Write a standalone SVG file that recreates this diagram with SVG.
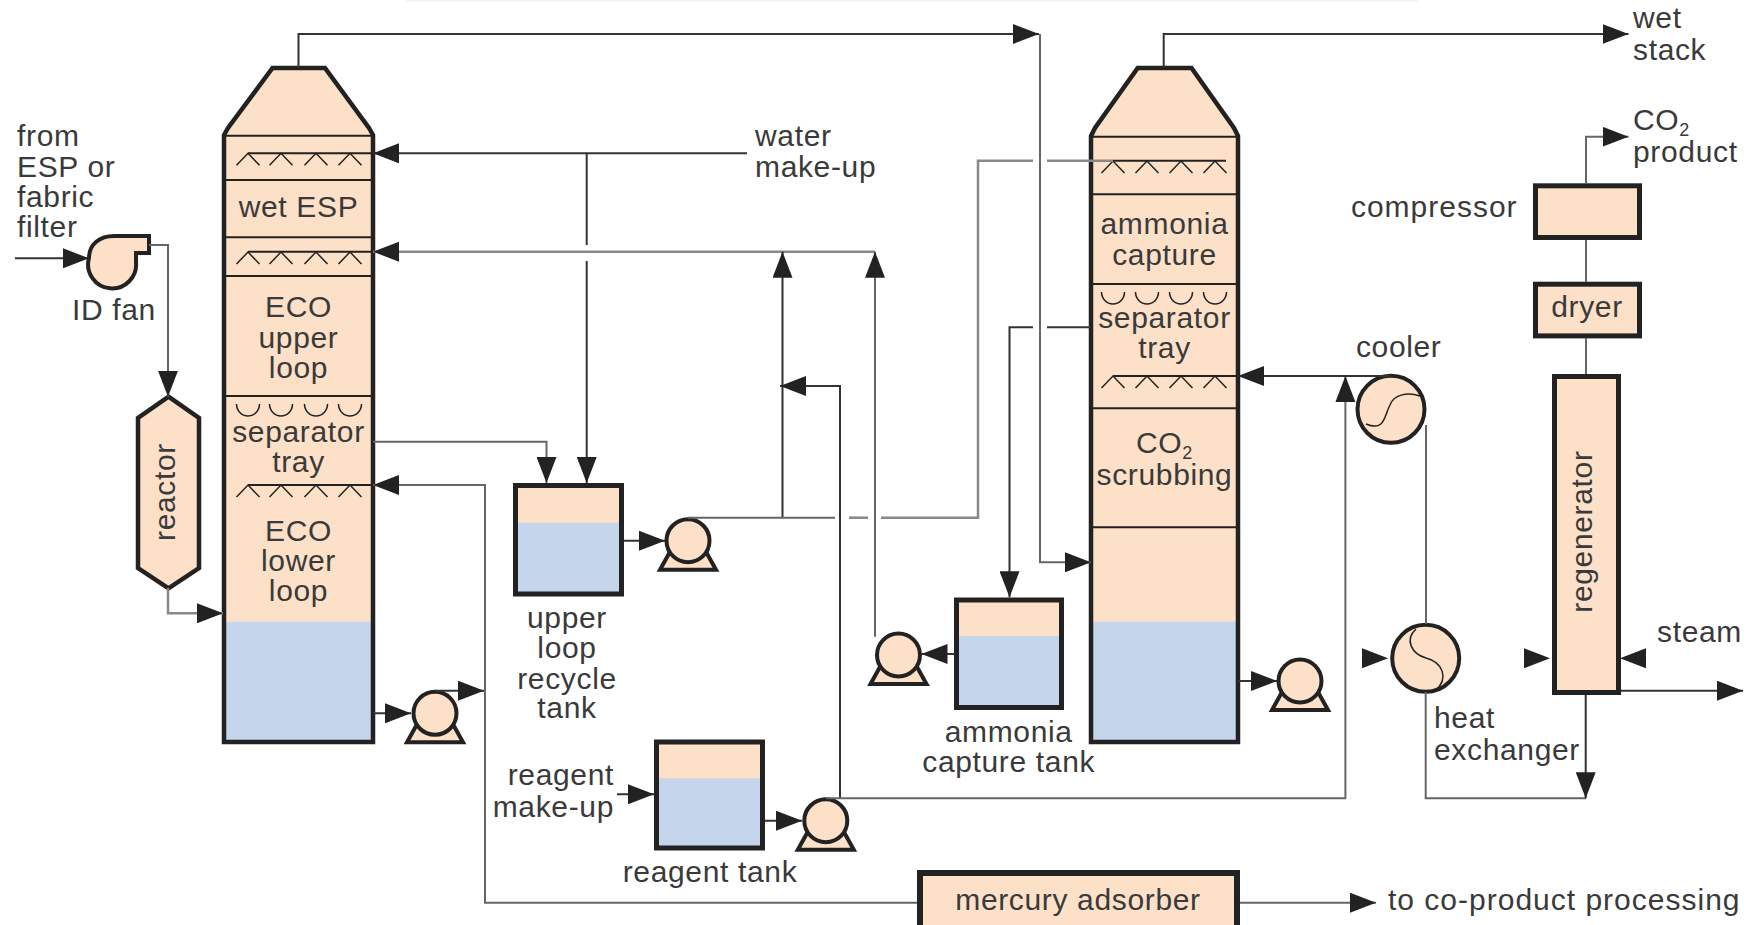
<svg xmlns="http://www.w3.org/2000/svg" xmlns:xlink="http://www.w3.org/1999/xlink" width="1754" height="925" viewBox="0 0 1754 925">
<style>
text{font-family:"Liberation Sans",Arial,sans-serif;font-size:30px;fill:#3a3a3a;letter-spacing:.65px}
.m{text-anchor:middle}.e{text-anchor:end}.x{letter-spacing:1px}
.p{fill:#fde0c8}.b{fill:#c5d5ec}
.o{fill:none;stroke:#222;stroke-width:5}
.t{fill:none;stroke:#222;stroke-width:4.5;stroke-linejoin:miter}
.s{fill:none;stroke:#222;stroke-width:2}
.g{fill:none;stroke:#222;stroke-width:1.5}
.c{fill:none;stroke:#333;stroke-width:2}
.l{fill:none;stroke:#666;stroke-width:2}
.w{fill:none;stroke:#888;stroke-width:2.5}
.a{marker-end:url(#ah)}
</style>
<defs>
<marker id="ah" markerUnits="userSpaceOnUse" markerWidth="27" markerHeight="20" refX="26" refY="10" orient="auto"><path d="M0,0 L26,10 L0,20 Z" fill="#222"/></marker>
<g id="pump"><path d="M-28,29 L28,29 L13,2 L-13,2 Z" class="p" stroke="#222" stroke-width="4"/><circle r="21.5" class="p" stroke="#222" stroke-width="4"/></g>
<path id="caret" d="M-11.5,12 L0,0 L11.5,12" class="g"/>
<path id="cup" d="M-11.5,0 A11.5,12 0 0 0 11.5,0" class="g"/>
</defs>
<rect x="405" y="0" width="1013" height="2" fill="#f3f3f3"/>

<g id="tower1">
<path d="M224,135 L272.5,68 L325,68 L373,135 V742 H224 Z" class="p"/>
<rect x="224" y="621.7" width="149" height="120" class="b"/>
<path d="M224,742 V135 L228,128 L272.5,68 L325,68 L369,128 L373,135 V742 Z" class="t"/>
<path d="M224,135.7H373M224,180H373M224,237.3H373M224,276H373M224,396H373" class="s"/>
<path d="M248,153.3H373M248,251.7H373M248,485H373" class="s"/>
<use xlink:href="#caret" x="248" y="153.3"/><use xlink:href="#caret" x="281" y="153.3"/><use xlink:href="#caret" x="316" y="153.3"/><use xlink:href="#caret" x="350" y="153.3"/>
<use xlink:href="#caret" x="248" y="252"/><use xlink:href="#caret" x="281" y="252"/><use xlink:href="#caret" x="316" y="252"/><use xlink:href="#caret" x="350" y="252"/>
<use xlink:href="#caret" x="248" y="485"/><use xlink:href="#caret" x="281" y="485"/><use xlink:href="#caret" x="316" y="485"/><use xlink:href="#caret" x="350" y="485"/>
<use xlink:href="#cup" x="248" y="404"/><use xlink:href="#cup" x="281" y="404"/><use xlink:href="#cup" x="316" y="404"/><use xlink:href="#cup" x="350" y="404"/>
<text class="m" x="298.5" y="216.7">wet ESP</text>
<text class="m" x="298.5" y="316.7">ECO</text><text class="m" x="298.5" y="348">upper</text><text class="m" x="298.5" y="377.7">loop</text>
<text class="m" x="298.5" y="441.7">separator</text><text class="m" x="298.5" y="471.7">tray</text>
<text class="m" x="298.5" y="541">ECO</text><text class="m" x="298.5" y="570.7">lower</text><text class="m" x="298.5" y="600.7">loop</text>
</g>

<g id="tower2">
<path d="M1091,136 L1137.7,68 L1191.5,68 L1238,136 V742 H1091 Z" class="p"/>
<rect x="1091" y="621.7" width="147" height="120" class="b"/>
<path d="M1091,742 V136 L1095,128 L1137.7,68 L1191.5,68 L1234,128 L1238,136 V742 Z" class="t"/>
<path d="M1091,136.7H1238M1091,194.3H1238M1091,284H1238M1091,408.3H1238M1091,527.3H1238" class="s"/>
<path d="M1113,160.7H1226M1113,376H1238" class="s"/>
<use xlink:href="#caret" x="1113" y="161"/><use xlink:href="#caret" x="1147" y="161"/><use xlink:href="#caret" x="1181" y="161"/><use xlink:href="#caret" x="1215" y="161"/>
<use xlink:href="#caret" x="1113" y="376"/><use xlink:href="#caret" x="1147" y="376"/><use xlink:href="#caret" x="1181" y="376"/><use xlink:href="#caret" x="1215" y="376"/>
<use xlink:href="#cup" x="1113" y="292"/><use xlink:href="#cup" x="1147" y="292"/><use xlink:href="#cup" x="1181" y="292"/><use xlink:href="#cup" x="1215" y="292"/>
<text class="m" x="1164.5" y="234.3">ammonia</text><text class="m" x="1164.5" y="265">capture</text>
<text class="m" x="1164.5" y="328.3">separator</text><text class="m" x="1164.5" y="358.3">tray</text>
<text class="m" x="1164.5" y="453.3">CO<tspan font-size="18" dy="6">2</tspan></text>
<text class="m" x="1164.5" y="485">scrubbing</text>
</g>

<g id="fan">
<path d="M149,236 V253 H136 V262 A24,24 0 1 1 89,258 C89,244 100,236 114,236 Z" class="p" stroke="#222" stroke-width="4"/>
<text class="m" x="114" y="320">ID fan</text>
</g>
<g id="reactor">
<path d="M168.5,396.7 L199,418 V568 L168.5,588.3 L138,568 V418 Z" class="p" stroke="#222" stroke-width="4.5"/>
<text class="m" transform="translate(175,492) rotate(-90)">reactor</text>
</g>
<g id="pump1"><use xlink:href="#pump" x="435" y="713.3"/></g>
<g id="pump2"><use xlink:href="#pump" x="688" y="540.7"/></g>
<g id="pump3"><use xlink:href="#pump" x="898.5" y="655"/></g>
<g id="pump4"><use xlink:href="#pump" x="825.8" y="820.7"/></g>
<g id="pump5"><use xlink:href="#pump" x="1300" y="681"/></g>
<g id="upper-tank">
<rect x="515.5" y="485.5" width="106" height="108.5" class="p"/><rect x="515.5" y="522.7" width="106" height="71.3" class="b"/>
<rect x="515.5" y="485.5" width="106" height="108.5" class="o"/>
<text class="m" x="567" y="628">upper</text><text class="m" x="567" y="658">loop</text><text class="m" x="567" y="689">recycle</text><text class="m" x="567" y="718">tank</text>
</g>
<g id="ammonia-tank">
<rect x="956.5" y="600" width="105" height="107.5" class="p"/><rect x="956.5" y="636" width="105" height="71.5" class="b"/>
<rect x="956.5" y="600" width="105" height="107.5" class="o"/>
<text class="m" x="1008.7" y="741.7">ammonia</text><text class="m" x="1008.7" y="771.7">capture tank</text>
</g>
<g id="reagent-tank">
<rect x="656.5" y="742" width="106" height="106" class="p"/><rect x="656.5" y="778.3" width="106" height="69.7" class="b"/>
<rect x="656.5" y="742" width="106" height="106" class="o"/>
<text class="m" x="710" y="881.7">reagent tank</text>
</g>
<g id="mercury">
<rect x="920" y="873" width="317" height="60" class="p" stroke="#222" stroke-width="6"/>
<text class="m" x="1078" y="910">mercury adsorber</text>
</g>
<g id="compressor">
<rect x="1535.5" y="185.8" width="104" height="51.7" class="p" stroke="#222" stroke-width="5"/>
<text class="e x" x="1517.6" y="216.7">compressor</text>
</g>
<g id="dryer">
<rect x="1535.5" y="284.2" width="104" height="51.7" class="p" stroke="#222" stroke-width="5"/>
<text class="m" x="1587" y="316.7">dryer</text>
</g>
<g id="regenerator">
<rect x="1554.5" y="376.5" width="64" height="316" class="p" stroke="#222" stroke-width="5"/>
<text class="m" transform="translate(1592,531.6) rotate(-90)">regenerator</text>
</g>
<g id="cooler">
<ellipse cx="1391" cy="409.3" rx="33.5" ry="33.5" class="p" stroke="#222" stroke-width="4"/>
<path d="M1366,424 C1385,432 1384,416 1390,405 C1394,394 1408,392 1420,396" class="g"/>
<text class="m" x="1398.7" y="357.3">cooler</text>
</g>
<g id="heat-exchanger">
<ellipse cx="1425.7" cy="658.3" rx="33.5" ry="33.5" class="p" stroke="#222" stroke-width="4"/>
<path d="M1416,629 C1404,640 1412,654 1426,658 C1442,662 1450,678 1435,691" class="g"/>
<text x="1434" y="728">heat</text><text x="1434" y="760">exchanger</text>
</g>

<g id="connectors">
<path class="c a" d="M298.5,68 V34 H1039"/>
<path class="c a" d="M1163.7,68 V34 H1628.5"/>
<path class="c a" d="M747,153.3 H373"/>
<path class="c" d="M586.7,153.3 V245"/>
<path class="c a" d="M586.7,261 V483"/>
<path class="l a" d="M373,441.7 H546.5 V483"/>
<path class="w a" d="M875,251.7 H373"/>
<path class="c a" d="M782.5,517.7 V251.7"/>
<path class="l a" d="M875,636.7 V251.7"/>
<path class="l" d="M688,517.7 H835"/>
<path class="w" d="M849,517.7 H868"/>
<path class="w" d="M881,517.7 H978 V160.7 H1033"/>
<path class="w" d="M1047,160.7 H1113"/>
<path class="c" d="M1091,327.3 H1047"/>
<path class="c a" d="M1033,327.3 H1009.5 V597.3"/>
<path class="l a" d="M1040,34 V562.3 H1091"/>
<path class="c a" d="M840,798.3 V386 H780"/>
<path class="l a" d="M826,798.3 H1345.4 V376"/>
<path class="c a" d="M1391,376 H1238"/>
<path class="l" d="M1426,425 V624"/>
<path class="l" d="M1425.7,692 V798.3 H1586"/>
<path class="c a" d="M1585.7,695 V798.3"/>
<path class="l a" d="M1586,183 V136.7 H1628.5"/>
<path class="l" d="M1586,240 V282"/>
<path class="l" d="M1586,338 V374"/>
<path class="c a" d="M1621,690.7 H1743"/>
<path class="c a" d="M15,258.3 H89"/>
<path class="l a" d="M149,245 H168 V396.7"/>
<path class="w a" d="M168,588 V613.3 H223"/>
<path class="c a" d="M373,713.3 H411"/>
<path class="c a" d="M435,690.7 H484"/>
<path class="l a" d="M917,902.7 H485 V485 H373"/>
<path class="c a" d="M624,540.7 H665"/>
<path class="c a" d="M954,654 H921.5"/>
<path class="c a" d="M617,794.3 H654"/>
<path class="c a" d="M765,820.7 H802"/>
<path class="c a" d="M1238,681 H1277"/>
<path class="l a" d="M1240,902.7 H1376"/>
<path class="a" d="M1364,658.3 H1388" stroke="none" fill="none"/>
<path class="a" d="M1524,658.3 H1550" stroke="none" fill="none"/>
<path class="a" d="M1646,658.3 H1620" stroke="none" fill="none"/>
</g>

<g id="labels">
<text x="17" y="145.7">from</text><text x="17" y="176.7">ESP or</text><text x="17" y="206.7">fabric</text><text x="17" y="237.3">filter</text>
<text x="755" y="145.7">water</text><text x="755" y="176.7">make-up</text>
<text class="e" x="614" y="785">reagent</text><text class="e" x="614" y="816.7">make-up</text>
<text x="1633" y="28.3">wet</text><text x="1633" y="60">stack</text>
<text x="1633" y="130">CO<tspan font-size="18" dy="6">2</tspan></text><text x="1633" y="161.7">product</text>
<text x="1657" y="641.7">steam</text>
<text class="x" x="1388" y="910">to co-product processing</text>
</g>
</svg>
